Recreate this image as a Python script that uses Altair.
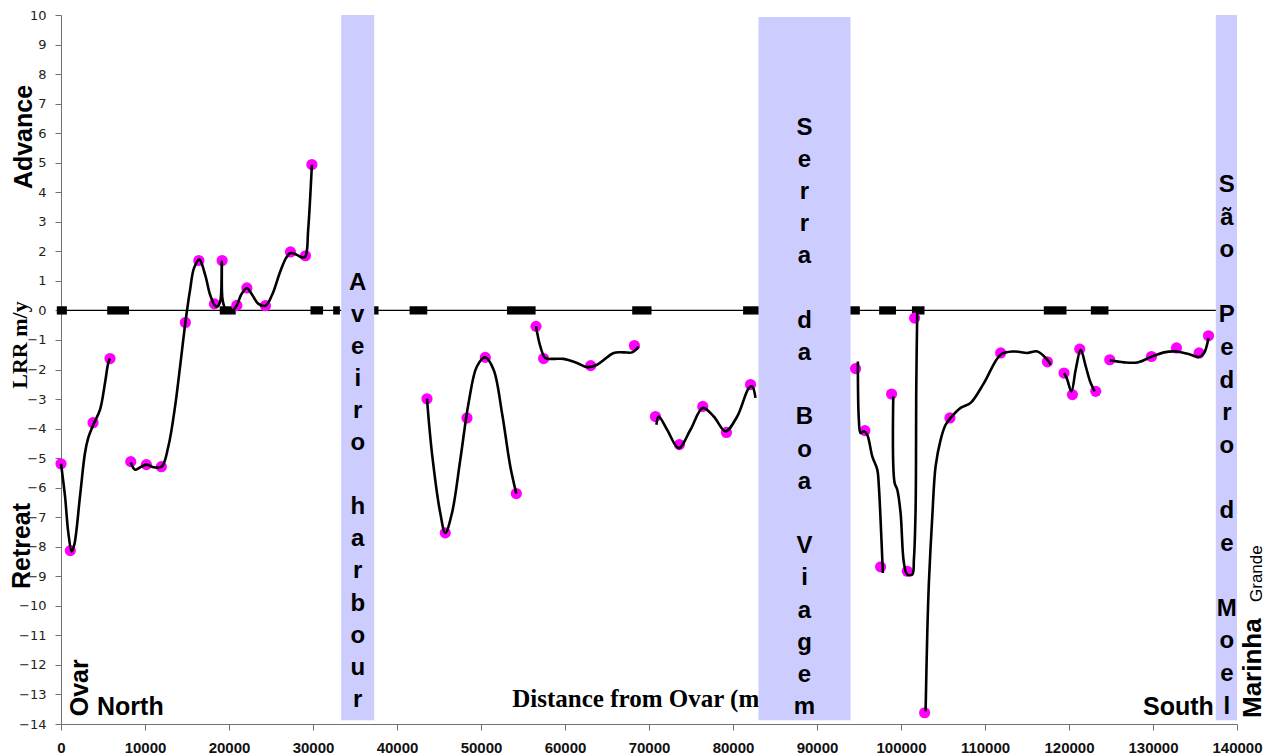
import altair as alt
import pandas as pd

# ---------------- data ----------------
# magenta sample points: distance from Ovar (m), LRR (m/y)
pt_dist = [0, 1108, 3812, 5837,
           8304, 10162, 11949, 14808, 16405, 18263, 19180, 20932, 22123, 24339, 27317, 29104, 29867,
           43567, 45747, 48332, 50512, 54205,
           56552, 57458, 63057, 68263,
           70765, 73624, 76400, 79223, 82082,
           94591, 95699, 97570, 98880, 100751, 101620, 102812, 105826, 111866, 117429, 119407,
           120407, 121277, 123183,
           124851, 129819, 132797, 135490, 136610]
pt_lrr = [-5.19, -8.13, -3.80, -1.63,
          -5.12, -5.22, -5.29, -0.41, 1.69, 0.22, 1.69, 0.17, 0.76, 0.16, 1.98, 1.85, 4.94,
          -2.99, -7.53, -3.64, -1.59, -6.20,
          -0.54, -1.63, -1.87, -1.19,
          -3.59, -4.54, -3.25, -4.13, -2.51,
          -1.97, -4.07, -8.68, -2.83, -8.83, -0.26, -13.62, -3.64, -1.44, -1.74, -2.12,
          -2.85, -1.31, -2.74,
          -1.67, -1.56, -1.27, -1.44, -0.86]

# black smoothed curve, read as knots per segment
line_seg = (["s1"] * 13 + ["s2"] * 37 + ["s3"] * 13 + ["s4"] * 12 + ["s5"] * 12 +
            ["s6a"] * 10 + ["s6b"] * 11 + ["s6c"] * 17 + ["s6d"] * 8 + ["s7"] * 10)
line_dist = [0, 477, 870, 1275, 1584, 2263, 2859, 3252, 3848, 4646, 5242, 5635, 5837,
             8304, 8816, 9614, 10210, 10996, 11996, 12783, 13581, 14176, 14808, 15368, 15844,
             16476, 17155, 17750, 18263, 18585, 18942, 19144, 19239, 19656, 20371, 20932,
             21444, 22123, 22754, 23469, 24339, 25136, 26090, 26804, 27317, 28079, 28710,
             29104, 29426, 29867,
             43567, 44163, 45151, 45747, 46545, 47535, 48523, 49523, 50512, 51502, 52500, 53489, 54205,
             56552, 57064, 57660, 58649, 59840, 61436, 62628, 63819, 65796, 66987, 67988, 68774,
             70882, 71156, 72157, 73539, 74933, 76398, 77709, 79103, 80496, 81878, 82283, 82676,
             94864, 94983, 95185, 95578, 95983, 96579, 97175, 97365, 97567, 97841,
             99080, 99235, 99556, 99950, 100343, 100748, 101343, 101534, 101736, 101820, 101939,
             102928, 103130, 103321, 103726, 104119, 104715, 105310, 105906, 107097, 108289,
             109873, 111863, 113448, 115044, 116235, 117427, 117820,
             119407, 119725, 120285, 120796, 121392, 121988, 122583, 123060,
             124848, 126552, 128148, 129733, 131317, 132794, 134498, 135486, 136081, 136606]
line_lrr = [-5.19, -6.29, -7.52, -8.16, -7.93, -6.29, -4.82, -4.31, -3.87, -3.36, -2.45, -1.77, -1.63,
            -5.15, -5.39, -5.28, -5.22, -5.31, -5.28, -4.60, -3.25, -1.90, -0.41, 0.70, 1.44,
            1.72, 1.21, 0.53, 0.19, 0.13, 0.29, 1.65, 0.36, 0.02, -0.01, 0.17,
            0.53, 0.76, 0.53, 0.23, 0.16, 0.53, 1.31, 1.78, 1.94, 1.88, 1.79,
            1.83, 2.73, 4.93,
            -2.99, -4.83, -6.86, -7.53, -6.86, -5.05, -3.13, -1.89, -1.59, -2.01, -3.47, -5.28, -6.20,
            -0.54, -1.22, -1.61, -1.64, -1.64, -1.78, -1.92, -1.84, -1.44, -1.42, -1.42, -1.22,
            -3.87, -3.59, -4.04, -4.66, -4.04, -3.30, -3.59, -4.09, -3.59, -2.63, -2.57, -2.96,
            -1.73, -3.70, -4.15, -4.09, -4.21, -4.94, -5.39, -5.96, -7.08, -8.89,
            -2.91, -5.83, -6.07, -6.85, -8.54, -8.94, -8.94, -8.44, -6.74, -2.57, 0.08,
            -13.57, -10.91, -9.21, -6.97, -5.28, -4.38, -3.87, -3.64, -3.30, -3.13,
            -2.46, -1.50, -1.39, -1.44, -1.39, -1.67, -1.84,
            -2.12, -2.29, -2.74, -2.01, -1.33, -1.89, -2.46, -2.74,
            -1.69, -1.76, -1.76, -1.58, -1.42, -1.39, -1.50, -1.58, -1.44, -0.93]

# black markers on the zero line (start / end distance)
sq_start = [-500, 5500, 18900, 29700, 32400, 36800, 41500, 53100, 68000, 81200, 93400, 97400, 101300, 117000, 122600]
sq_end = [700, 8100, 20800, 31200, 33200, 37800, 43600, 56500, 70300, 83300, 95100, 99400, 102800, 119700, 124700]

# shaded places
band_name = ["Aveiro harbour", "Serra da Boa Viagem", "São Pedro de Moel"]
band_start = [33357, 83034, 137476]
band_end = [37289, 93994, 140000]
band_top = [10.0, 9.93, 10.0]
band_bottom = [-13.87, -13.87, -13.87]

# stacked letters of the shaded places ("" = blank line)
aveiro_letters = ["A", "v", "e", "i", "r", "o", "", "h", "a", "r", "b", "o", "u", "r"]
serra_letters = ["S", "e", "r", "r", "a", "", "d", "a", "", "B", "o", "a", "",
                 "V", "i", "a", "g", "e", "m"]
sao_letters = ["S", "ã", "o", "", "P", "e", "d", "r", "o", "", "d", "e", "",
               "M", "o", "e", "l"]

x_ticks = list(range(0, 140001, 10000))
y_ticks = list(range(-14, 11))

# ---------------- chart ----------------
MAGENTA = "#FF00FF"
BAND = "#CCCCFF"
SANS = "Liberation Sans"
SERIF = "Liberation Serif"
PX_PER_UNIT = 709 / 24.0

xs = alt.Scale(domain=[0, 140000], nice=False, zero=False)
ys = alt.Scale(domain=[-14, 10], nice=False, zero=False)
xax = alt.Axis(values=x_ticks, format="d", title=None, grid=False, labelFlush=False,
               labelFont=SANS, labelFontWeight="bold", labelFontSize=15, labelColor="#111",
               tickSize=6, labelPadding=10, domainColor="#707070", tickColor="#707070")
yax = alt.Axis(values=y_ticks, title=None, grid=False, labelFlush=False,
               labelFont="DejaVu Sans", labelFontSize=13, labelColor="#222",
               tickSize=6, labelPadding=9, domainColor="#707070", tickColor="#707070")

pts = pd.DataFrame({"dist": pt_dist, "lrr": pt_lrr})
lines = pd.DataFrame({"seg": line_seg, "dist": line_dist, "lrr": line_lrr})
lines["ord"] = range(len(lines))
sq = pd.DataFrame({"s": sq_start, "e": sq_end})
bands = pd.DataFrame({"name": band_name, "s": band_start, "e": band_end,
                      "t": band_top, "b": band_bottom})

zero = alt.Chart(pd.DataFrame({"s": [0], "e": [140000], "y": [0]})).mark_rule(
    color="black", strokeWidth=1.3).encode(
    x=alt.X("s:Q", scale=xs, axis=xax), x2="e:Q",
    y=alt.Y("y:Q", scale=ys, axis=yax))

squares = alt.Chart(sq.assign(y0=-0.14, y1=0.14)).mark_rect(color="black").encode(
    x=alt.X("s:Q", scale=xs, axis=xax), x2="e:Q",
    y=alt.Y("y0:Q", scale=ys, axis=yax), y2="y1:Q")

dist_label = alt.Chart(pd.DataFrame({"x": [53728], "y": [-13.41],
                                     "t": ["Distance from Ovar (m)"]})).mark_text(
    font=SERIF, fontWeight="bold", fontSize=25, align="left", baseline="alphabetic",
    color="black").encode(
    x=alt.X("x:Q", scale=xs, axis=xax), y=alt.Y("y:Q", scale=ys, axis=yax), text="t:N")

band_rects = alt.Chart(bands).mark_rect(color=BAND).encode(
    x=alt.X("s:Q", scale=xs, axis=xax), x2="e:Q",
    y=alt.Y("b:Q", scale=ys, axis=yax), y2="t:Q")

dots = alt.Chart(pts).mark_circle(color=MAGENTA, size=125, opacity=1).encode(
    x=alt.X("dist:Q", scale=xs, axis=xax), y=alt.Y("lrr:Q", scale=ys, axis=yax))

curve = alt.Chart(lines).mark_line(color="black", strokeWidth=2.6,
                                    interpolate="catmull-rom").encode(
    x=alt.X("dist:Q", scale=xs, axis=xax), y=alt.Y("lrr:Q", scale=ys, axis=yax),
    detail="seg:N", order="ord:Q")


def stacked(xc, ybase, letters, lh):
    df = pd.DataFrame({"ch": letters, "i": list(range(len(letters)))})
    df = df[df["ch"] != ""]
    step = lh / PX_PER_UNIT
    return alt.Chart(df).transform_calculate(
        x=str(xc), y=f"{ybase} - datum.i * {step}"
    ).mark_text(font=SANS, fontWeight="bold", fontSize=24,
                align="center", baseline="alphabetic", color="black").encode(
        x=alt.X("x:Q", scale=xs, axis=xax), y=alt.Y("y:Q", scale=ys, axis=yax),
        text="ch:N")


aveiro_txt = stacked(35323, 0.69, aveiro_letters, 32.05)
serra_txt = stacked(88514, 5.95, serra_letters, 32.2)
sao_txt = stacked(138786, 4.01, sao_letters, 32.6)


def label_data(x, y, text, **kw):
    return alt.Chart(pd.DataFrame({"x": [x], "y": [y], "t": [text]})).mark_text(
        color="black", **kw).encode(
        x=alt.X("x:Q", scale=xs, axis=xax), y=alt.Y("y:Q", scale=ys, axis=yax), text="t:N")


def label_px(x, y, text, **kw):
    return alt.Chart(pd.DataFrame({"t": [text]})).mark_text(color="black", **kw).encode(
        x=alt.value(x), y=alt.value(y), text="t:N")


north = label_data(4289, -13.68, "North", font=SANS, fontWeight="bold", fontSize=25,
                   align="left", baseline="alphabetic")
south = label_data(137238, -13.68, "South", font=SANS, fontWeight="bold", fontSize=25,
                   align="right", baseline="alphabetic")
ovar = label_data(3216, -13.74, "Ovar", font=SANS, fontWeight="bold", fontSize=25,
                  align="left", baseline="alphabetic", angle=270)
advance = label_px(-29, 122, "Advance", font=SANS, fontWeight="bold", fontSize=25,
                   align="center", baseline="alphabetic", angle=270)
retreat = label_px(-31, 531, "Retreat", font=SANS, fontWeight="bold", fontSize=25,
                   align="center", baseline="alphabetic", angle=270)
lrr_lab = label_px(-34, 330, "LRR m/y", font=SERIF, fontWeight="bold", fontSize=22,
                   align="center", baseline="alphabetic", angle=270)
marinha = label_px(1200, 703, "Marinha", font=SANS, fontWeight="bold", fontSize=26,
                   align="left", baseline="alphabetic", angle=270)
grande = label_px(1201, 587, "Grande", font=SANS, fontSize=17,
                  align="left", baseline="alphabetic", angle=270)

chart = alt.layer(
    zero, squares, dist_label, band_rects, dots, curve,
    aveiro_txt, serra_txt, sao_txt,
    north, south, ovar, advance, retreat, lrr_lab, marinha, grande
).properties(
    width=1176, height=709,
    padding={"left": 53, "top": 7, "right": 30, "bottom": 32},
    autosize=alt.AutoSizeParams(type="none"),
    background="white",
).configure_view(stroke=None)

chart.save("out.html", embed_options={"renderer": "svg", "actions": False})
